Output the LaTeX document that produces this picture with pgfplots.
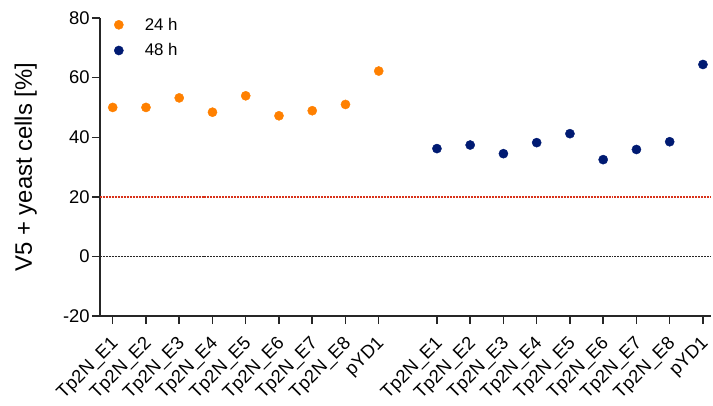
\documentclass[border=0pt]{standalone}
\usepackage{pgfplots}
\pgfplotsset{compat=1.18}
\usepackage{fontspec}
\setmainfont{Liberation Sans}

\definecolor{ora}{HTML}{FF8000}
\definecolor{nav}{HTML}{001A72}
\definecolor{axgray}{HTML}{262626}
\definecolor{refred}{HTML}{D8321A}

\begin{document}
\begin{tikzpicture}
\begin{axis}[
  name=ax,
  scale only axis,
  width=613bp, height=299bp,
  xmin=0.61, xmax=19.0,
  ymin=-20, ymax=80,
  ytick={-20,0,20,40,60,80},
  axis x line*=bottom,
  axis y line*=left,
  axis line style={line width=1.8bp, color=axgray, -},
  tick style={line width=1.5bp, color=axgray},
  tick align=outside,
  major tick length=8bp,
  xtick={1,2,3,4,5,6,7,8,9,10.75,11.75,12.75,13.75,14.75,15.75,16.75,17.75,18.75},
  xticklabels={Tp2N\_E1,Tp2N\_E2,Tp2N\_E3,Tp2N\_E4,Tp2N\_E5,Tp2N\_E6,Tp2N\_E7,Tp2N\_E8,pYD1,
               Tp2N\_E1,Tp2N\_E2,Tp2N\_E3,Tp2N\_E4,Tp2N\_E5,Tp2N\_E6,Tp2N\_E7,Tp2N\_E8,pYD1},
  x tick label style={xshift=-3bp, yshift=-9.5bp, rotate=45, anchor=north east,
                      font=\fontsize{18.5}{20}\selectfont, inner sep=1bp},
  y tick label style={font=\fontsize{18.5}{20}\selectfont, inner sep=2bp},
  /pgf/number format/assume math mode=true,
  ylabel={V5 + yeast cells [\%]},
  ylabel style={font=\fontsize{24}{26}\selectfont, at={(axis description cs:-0.097,0.5)}, anchor=south},
  clip=false,
  legend style={at={(axis description cs:0.0185,1.014)}, anchor=north west, draw=none, fill=none,
                font=\fontsize{17}{19}\selectfont, row sep=8bp},
  legend cell align=left,
  legend image code/.code={%
    \draw[#1] plot coordinates {(0.3cm,0cm)};
    \path[draw=none, fill=none] (0.3cm,0cm) -- ++(24bp,0bp);},
]
% reference lines at 20 % and 0 %
\addplot[forget plot, mark=none, refred, dash pattern=on 2bp off 1bp, line width=1.2bp] coordinates {(0.61,20) (19.0,20)};
\addplot[forget plot, mark=none, axgray, dash pattern=on 2bp off 1bp, line width=1bp] coordinates {(0.61,0) (19.0,0)};

% 24 h
\addplot[only marks, mark=*, mark size=4.6bp, color=ora] coordinates {
  (1,50.0) (2,50.0) (3,53.2) (4,48.4) (5,53.9) (6,47.2) (7,48.9) (8,51.0) (9,62.2)
};
\addlegendentry{24 h}
% 48 h
\addplot[only marks, mark=*, mark size=4.6bp, color=nav] coordinates {
  (10.75,36.2) (11.75,37.4) (12.75,34.5) (13.75,38.2) (14.75,41.2)
  (15.75,32.5) (16.75,35.9) (17.75,38.5) (18.75,64.4)
};
\addlegendentry{48 h}
\end{axis}
% margins around the axis box for the labels
\path ([xshift=-100bp,yshift=-89bp]ax.south west) rectangle ([yshift=18bp]ax.north east);
\end{tikzpicture}
\end{document}
